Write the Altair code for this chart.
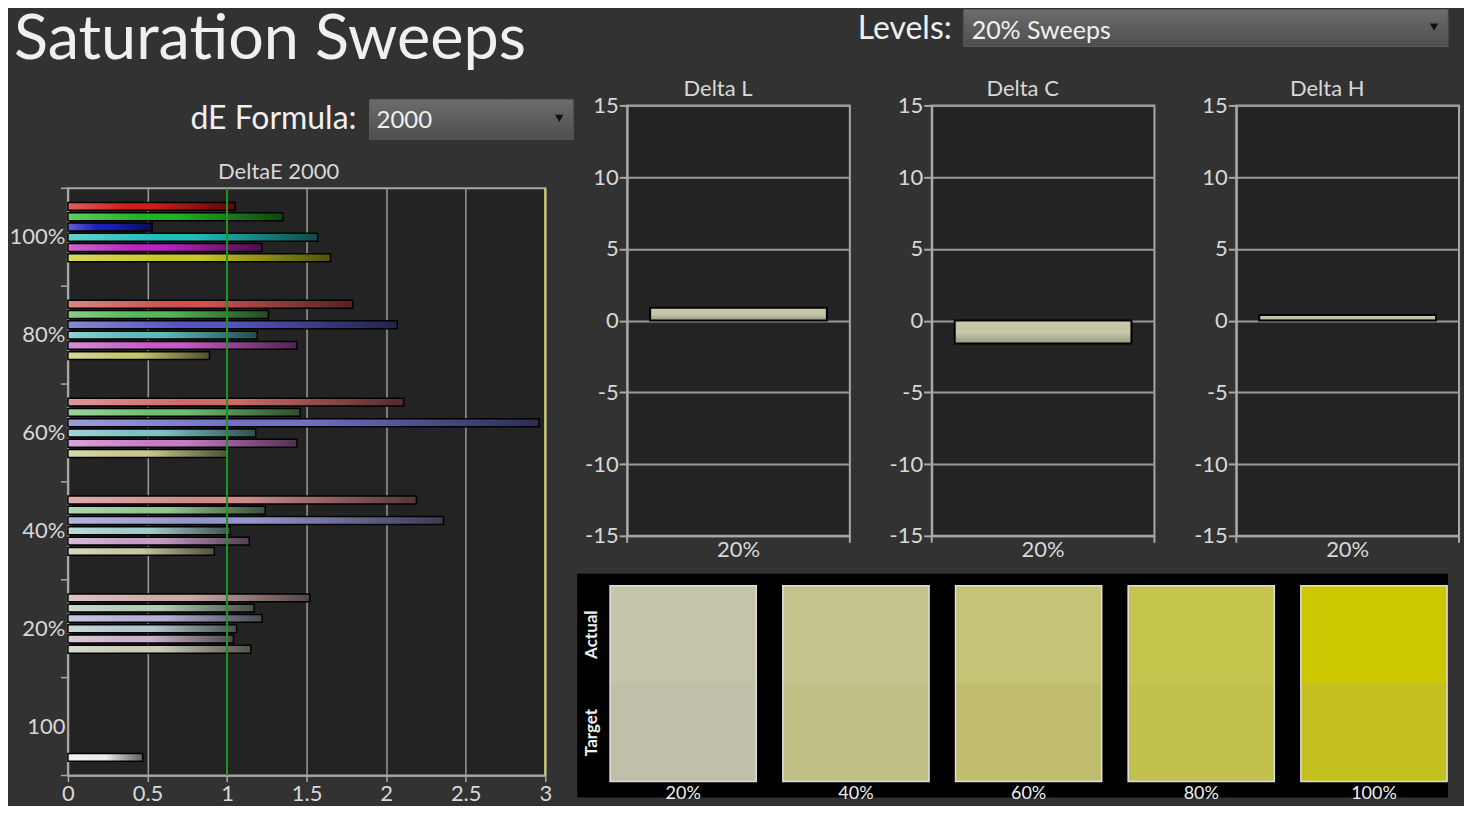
import altair as alt
import pandas as pd

# ---------------- data ----------------
page_title = "Saturation Sweeps"
formula_label = "dE Formula:"
formula_value = "2000"
levels_label = "Levels:"
levels_value = "20% Sweeps"
de_title = "DeltaE 2000"

de_levels = ["100%", "80%", "60%", "40%", "20%", "100"]
de_series = ["Red", "Green", "Blue", "Cyan", "Magenta", "Yellow", "White"]
de_100 = [1.05, 1.35, 0.53, 1.57, 1.22, 1.65]
de_80 = [1.79, 1.26, 2.07, 1.19, 1.44, 0.89]
de_60 = [2.11, 1.46, 2.96, 1.18, 1.44, 1.00]
de_40 = [2.19, 1.24, 2.36, 1.02, 1.14, 0.92]
de_20 = [1.52, 1.17, 1.22, 1.06, 1.04, 1.15]
de_white = [0.47]

col_100 = ["#d21c1c", "#1fb31f", "#1e1eb4", "#22bcbc", "#bc22bc", "#c8c820"]
col_80 = ["#d05050", "#56b856", "#5454c2", "#5cbcbc", "#c45cc4", "#c6c674"]
col_60 = ["#d06a6a", "#70c070", "#7070c8", "#7cc2c2", "#c87cc8", "#c8c88a"]
col_40 = ["#d08a8a", "#92c692", "#9494cc", "#a2caca", "#c89cc8", "#c8c8a2"]
col_20 = ["#d0aaaa", "#b2cab2", "#b2b2d2", "#b2caca", "#cab2ca", "#cacab6"]
col_white = ["#ececec"]

delta_names = ["Delta L", "Delta C", "Delta H"]
delta_values = [0.9, -1.6, 0.4]
delta_level = "20%"

swatch_levels = ["20%", "40%", "60%", "80%", "100%"]
swatch_parts = ["Actual", "Target"]
swatch_actual = ["#c5c4ab", "#c3c38e", "#c4c376", "#c5c44c", "#ccc700"]
swatch_target = ["#c0c0a8", "#c0c087", "#c0be6c", "#c2c14e", "#c4c020"]

# ---------------- style ----------------
FONT = "Lato"
BG = "#323232"
PLOT_BG = "#232323"
AX = "#a8a8a8"
GRID = "#9a9a9a"
LBL = "#d8d8d8"
TXT = "#f0f0f0"
NOVIEW = alt.ViewBackground(fill="transparent", stroke="transparent", strokeWidth=0)

# ---------------- tables ----------------
rows = []
for lvl, vals, cols in [("100%", de_100, col_100), ("80%", de_80, col_80),
                        ("60%", de_60, col_60), ("40%", de_40, col_40),
                        ("20%", de_20, col_20)]:
    for s, v, c in zip(de_series[:6], vals, cols):
        rows.append({"level": lvl, "series": s, "value": v, "color": c})
rows.append({"level": "100", "series": "White", "value": de_white[0], "color": col_white[0]})
de_df = pd.DataFrame(rows)

grad_h = alt.LinearGradient(
    gradient="linear", x1=0, x2=1, y1=0, y2=0,
    stops=[alt.GradientStop(color="rgba(255,255,255,0.30)", offset=0),
           alt.GradientStop(color="rgba(255,255,255,0)", offset=0.35),
           alt.GradientStop(color="rgba(0,0,0,0)", offset=0.5),
           alt.GradientStop(color="rgba(0,0,0,0.6)", offset=1)])
grad_v = alt.LinearGradient(
    gradient="linear", x1=0, x2=0, y1=0, y2=1,
    stops=[alt.GradientStop(color="rgba(255,255,255,0.10)", offset=0),
           alt.GradientStop(color="rgba(0,0,0,0)", offset=0.5),
           alt.GradientStop(color="rgba(0,0,0,0.25)", offset=1)])
grad_box = alt.LinearGradient(
    gradient="linear", x1=0, x2=0, y1=0, y2=1,
    stops=[alt.GradientStop(color="#6c6c6c", offset=0),
           alt.GradientStop(color="#4e4e4e", offset=1)])

one_df = pd.DataFrame({"k": [0]})


def spacer(x0):
    # invisible mark that fixes how far a panel's layout box reaches to the left
    return alt.Chart(one_df).mark_rect(opacity=0).encode(
        x=alt.value(x0), x2=alt.value(x0 + 1), y=alt.value(0), y2=alt.value(1))


def label(text, size, x, y, align="left", color=TXT):
    return alt.Chart(pd.DataFrame({"t": [text]})).mark_text(
        font=FONT, fontSize=size, color=color, align=align, baseline="middle").encode(
        text="t:N", x=alt.value(x), y=alt.value(y))


def dropdown(x0, x1, y0, y1):
    box = alt.Chart(one_df).mark_rect(fill=grad_box, stroke="#5a5a5a", strokeWidth=1).encode(
        x=alt.value(x0), x2=alt.value(x1), y=alt.value(y0), y2=alt.value(y1))
    arrow = alt.Chart(one_df).mark_point(shape="triangle-down", filled=True, color="#111",
                                         size=70, opacity=1).encode(
        x=alt.value(x1 - 14), y=alt.value((y0 + y1) / 2 - 1))
    return [box, arrow]


def vtick(x, y0, y1):
    return alt.Chart(one_df).mark_rule(color=AX, strokeWidth=2).encode(
        x=alt.value(x), y=alt.value(y0), y2=alt.value(y1))


# ---------------- left header (title + dE formula) ----------------
t_title = alt.Chart(pd.DataFrame({"t": [page_title]})).mark_text(
    font=FONT, fontSize=63, color=TXT, align="left", baseline="alphabetic").encode(
    text="t:N", x=alt.value(-54), y=alt.value(50))
left_header = alt.layer(
    t_title,
    label(formula_label, 32, 289, 110, align="right"),
    *dropdown(302, 506, 90, 130),
    label(formula_value, 24, 309, 112),
).properties(width=478, height=139, view=NOVIEW)

# ---------------- DeltaE panel ----------------
W_E, H_E = 478, 588
x_e = alt.X("value:Q", scale=alt.Scale(domain=[0, 3], nice=False, zero=True),
            axis=alt.Axis(values=[0, 0.5, 1, 1.5, 2, 2.5, 3], format="~g", title=None,
                          grid=True, gridColor=GRID, gridWidth=1.5,
                          tickSize=6, tickColor=AX, tickWidth=1.5,
                          domainColor=AX, domainWidth=1.5,
                          labelFontSize=22, labelColor=LBL, labelFont=FONT,
                          labelPadding=2, labelFlush=False, labelOverlap=False,
                          minExtent=0))
y_scale_e = alt.Scale(domain=de_levels, paddingInner=0, paddingOuter=0)
y_axis_e = alt.Axis(title=None, ticks=False, labelFontSize=22, labelColor=LBL,
                    labelFont=FONT, labelPadding=3, domainColor=AX, domainWidth=1.5,
                    minExtent=0, grid=False)
y_e = alt.Y("level:N", scale=y_scale_e, axis=y_axis_e)
slot_domain = ["_top"] + de_series + ["_bottom"]
yoff_e = alt.YOffset("series:N", scale=alt.Scale(domain=slot_domain, paddingInner=0.23,
                                                  paddingOuter=0.375))

bars_base = alt.Chart(de_df).mark_bar().encode(
    x=x_e, y=y_e, yOffset=yoff_e, color=alt.Color("color:N", scale=None))
bars_over = alt.Chart(de_df).mark_bar(fill=grad_h, stroke="#000", strokeWidth=1.5).encode(
    x=x_e, y=y_e, yOffset=yoff_e)

green_rule = alt.Chart(one_df).mark_rule(color="#1f951f", strokeWidth=2).encode(x=alt.datum(1))
yellow_rule = alt.Chart(one_df).mark_rule(color="#c9c964", strokeWidth=2).encode(x=alt.datum(3))

tick_df = pd.DataFrame({"level": de_levels})
ticks_a = alt.Chart(tick_df).mark_rule(color=AX, strokeWidth=1.5).encode(
    y=alt.Y("level:N", scale=y_scale_e, bandPosition=0, axis=y_axis_e),
    x=alt.value(-7), x2=alt.value(0))
ticks_b = alt.Chart(tick_df.tail(1)).mark_rule(color=AX, strokeWidth=1.5).encode(
    y=alt.Y("level:N", scale=y_scale_e, bandPosition=1, axis=y_axis_e),
    x=alt.value(-7), x2=alt.value(0))

deltaE = alt.layer(
    bars_base, bars_over, green_rule, yellow_rule, ticks_a, ticks_b,
    label(de_title, 22, 211, -16, align="center", color=LBL), spacer(-58)
).properties(width=W_E, height=H_E,
             view=alt.ViewBackground(fill=PLOT_BG, stroke=AX, strokeWidth=2))

left = alt.ConcatChart(concat=[left_header, deltaE], columns=1, spacing=12)

# ---------------- Delta L / C / H ----------------
W_D, H_D = 223, 431


def delta_chart(name, val):
    df = pd.DataFrame({"level": [delta_level], "value": [val]})
    x = alt.X("level:N", scale=alt.Scale(paddingInner=0, paddingOuter=0.13),
              axis=alt.Axis(title=None, ticks=False, labelAngle=0, labelFontSize=22,
                            labelColor=LBL, labelFont=FONT, labelPadding=4,
                            domainColor=AX, domainWidth=2, minExtent=0))
    y = alt.Y("value:Q", scale=alt.Scale(domain=[-15, 15], nice=False),
              axis=alt.Axis(values=[-15, -10, -5, 0, 5, 10, 15], labelExpr="datum.value",
                            title=None, grid=True,
                            gridColor=GRID, gridWidth=2, tickSize=8, tickColor=AX,
                            tickWidth=2, labelPadding=1, labelFontSize=22, labelColor=LBL,
                            labelFont=FONT, domainColor=AX, domainWidth=2, minExtent=0))
    base = alt.Chart(df).mark_bar(color="#c9c9ab").encode(x=x, y=y)
    over = alt.Chart(df).mark_bar(fill=grad_v, stroke="#000", strokeWidth=2).encode(x=x, y=y)
    return alt.layer(base, over, label(name, 22, 91, -16, align="center", color=LBL),
                     vtick(0, H_D, H_D + 7), vtick(W_D, H_D, H_D + 7),
                     spacer(-50)).properties(
        width=W_D, height=H_D,
        view=alt.ViewBackground(fill=PLOT_BG, stroke=AX, strokeWidth=2))


delta_row = alt.hconcat(*[delta_chart(n, v) for n, v in zip(delta_names, delta_values)],
                        spacing=29)

# ---------------- right header (Levels) ----------------
HW = 822
header = alt.layer(
    label(levels_label, 32, 325, 19, align="right"),
    *dropdown(337, HW, 0, 37),
    label(levels_value, 25, 345, 21),
).properties(width=HW, height=56, view=NOVIEW)

# ---------------- swatches ----------------
SW_H = 196
sw_rows = []
for lvl, a, t in zip(swatch_levels, swatch_actual, swatch_target):
    sw_rows.append({"level": lvl, "part": "Actual", "hex": a})
    sw_rows.append({"level": lvl, "part": "Target", "hex": t})
sw_df = pd.DataFrame(sw_rows)
sw_x = alt.X("level:N",
             scale=alt.Scale(domain=swatch_levels, range=[-17, HW - 1],
                             paddingInner=0.154, paddingOuter=0),
             axis=alt.Axis(title=None, ticks=False, domain=False, labelAngle=0, labelFontSize=18,
                           labelColor=TXT, labelFont=FONT, labelPadding=3, minExtent=0))
sw_bg = alt.Chart(one_df).mark_rect(color="#000000").encode(
    x=alt.value(-50), x2=alt.value(HW), y=alt.value(-12), y2=alt.value(SW_H + 16))
sw_cells = alt.Chart(sw_df).mark_rect(strokeWidth=1).encode(
    x=sw_x,
    y=alt.Y("part:N", scale=alt.Scale(domain=swatch_parts, paddingInner=0, paddingOuter=0),
            axis=alt.Axis(title=None, ticks=False, domain=False, labelAngle=270,
                          labelFontSize=17, labelFontWeight="bold", labelColor=TXT,
                          labelFont=FONT, labelPadding=27, minExtent=0)),
    color=alt.Color("hex:N", scale=None),
    stroke=alt.Stroke("hex:N", scale=None))
sw_frame = alt.Chart(pd.DataFrame({"level": swatch_levels})).mark_rect(
    filled=False, stroke="#dedede", strokeWidth=1.5).encode(x=sw_x)
swatches = alt.layer(sw_bg, sw_cells, sw_frame).properties(
    width=HW - 1, height=SW_H, view=NOVIEW)

right = alt.ConcatChart(concat=[header, delta_row, swatches], columns=1, spacing=12)

chart = alt.ConcatChart(concat=[left, right], columns=2, spacing=2).configure(
    background=BG, padding=0, font=FONT
).configure_title(font=FONT)

chart.save("out.html", embed_options={"renderer": "svg", "actions": False})
